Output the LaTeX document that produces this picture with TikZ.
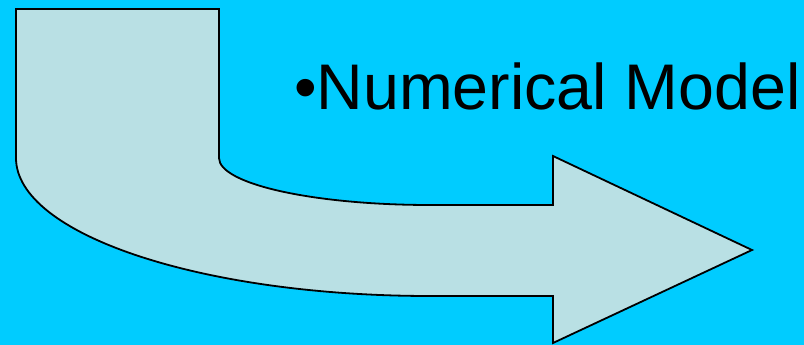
\documentclass[tikz,border=0pt]{standalone}
\usepackage{fontspec}
\setmainfont{Liberation Sans}
\usepackage{tikz}
\definecolor{slidebg}{RGB}{0,204,255}
\definecolor{arrowfill}{RGB}{185,224,228}

\begin{document}
\begin{tikzpicture}[x=1pt, y=-1pt, every node/.style={font=\fontsize{64.5}{64.5}\selectfont}]
	\fill[slidebg] (0,0) rectangle (804,345);
	\useasboundingbox (0,0) rectangle (804,345);
	% bent arrow
	\draw[line width=1.8pt, fill=arrowfill, line join=miter]
		(16,9) -- (219,9) -- (219,158)
		.. controls (219,184) and (313.5,205) .. (430,205)
		-- (553,205) -- (553,156) -- (752,250) -- (553,343) -- (553,296)
		-- (430,296) .. controls (201.3,296) and (16,234.2) .. (16,158) -- cycle;
	\node[anchor=base west, inner sep=0pt] (model) at (294,110) {•Numerical Model};
\end{tikzpicture}
\end{document}
